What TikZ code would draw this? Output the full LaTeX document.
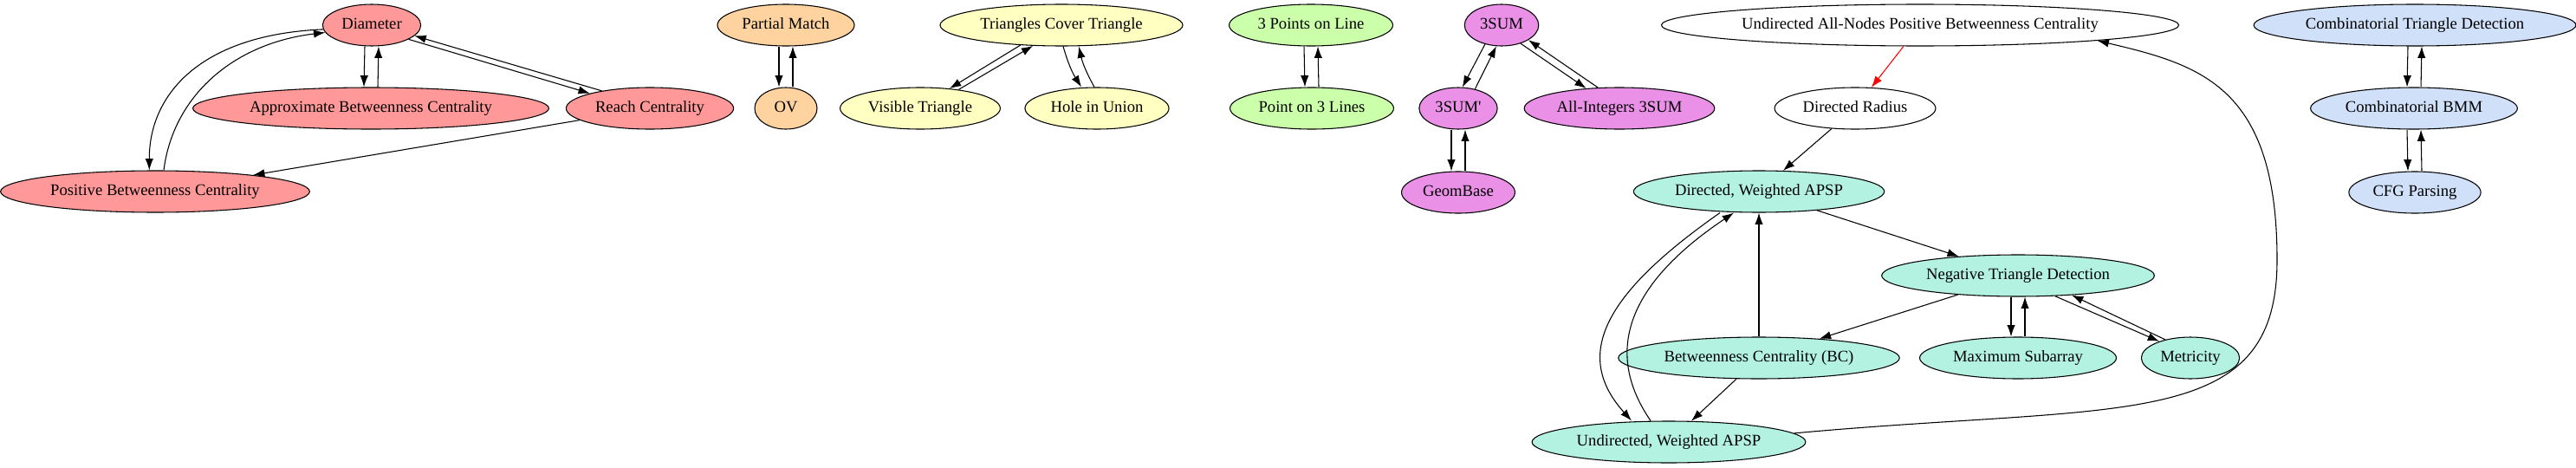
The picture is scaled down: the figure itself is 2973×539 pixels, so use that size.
\documentclass[tikz,border=0pt]{standalone}
\usepackage{fontspec}
\setmainfont{Liberation Serif}
\usetikzlibrary{positioning}
\usetikzlibrary{shapes}
\usetikzlibrary{arrows.meta}

\definecolor{gvred}{HTML}{FF9999}
\definecolor{gvorange}{HTML}{FFD39F}
\definecolor{gvyellow}{HTML}{FFFFC2}
\definecolor{gvgreen}{HTML}{CCFFAA}
\definecolor{gvviolet}{HTML}{EA90E7}
\definecolor{gvteal}{HTML}{B3F2E1}
\definecolor{gvblue}{HTML}{D0E0F8}

\begin{document}
\begin{tikzpicture} [
            x=0.75pt, y=-0.75pt,
            >={Latex[length=10pt,width=7pt]},
            edge/.style={->,line width=0.8pt},
            gnode/.style={draw,ellipse,line width=0.8pt,minimum width=54pt,minimum height=36pt,
                          inner xsep=4pt,inner ysep=1pt,text height=9.5pt,text depth=3pt,
                          font=\fontsize{14pt}{16pt}\selectfont},
            rednode/.style={gnode,fill=gvred},
            orangenode/.style={gnode,fill=gvorange},
            yellownode/.style={gnode,fill=gvyellow},
            greennode/.style={gnode,fill=gvgreen},
            violetnode/.style={gnode,fill=gvviolet},
            tealnode/.style={gnode,fill=gvteal},
            bluenode/.style={gnode,fill=gvblue}]
\useasboundingbox (0,0) rectangle (2973,539);
\node (diam) at (429,29) [rednode] {Diameter}
node (approx) at (428,125) [rednode] {Approximate Betweenness Centrality}
node (reach) at (750,125) [rednode] {Reach Centrality}
node (posbc) at (179,221) [rednode] {Positive Betweenness Centrality}
node (pmatch) at (907,29) [orangenode] {Partial Match}
node (ov) at (907,125) [orangenode] {OV}
node (tct) at (1225,29) [yellownode] {Triangles Cover Triangle}
node (vistri) at (1062,125) [yellownode] {Visible Triangle}
node (hole) at (1266,125) [yellownode] {Hole in Union}
node (ptsline) at (1513,29) [greennode] {3 Points on Line}
node (ptlines) at (1514,125) [greennode] {Point on 3 Lines}
node (tsum) at (1733,29) [violetnode] {3SUM}
node (tsump) at (1683,125) [violetnode] {3SUM\textquotesingle}
node (allint) at (1869,125) [violetnode] {All-Integers 3SUM}
node (geombase) at (1683,222) [violetnode] {GeomBase}
node (uanpbc) at (2216,29) [gnode] {Undirected All-Nodes Positive Betweenness Centrality}
node (dradius) at (2141,125) [gnode] {Directed Radius}
node (dwapsp) at (2030,221) [tealnode] {Directed, Weighted APSP}
node (negtri) at (2329,318) [tealnode] {Negative Triangle Detection}
node (bc) at (2030,413) [tealnode] {Betweenness Centrality (BC)}
node (maxsub) at (2329,413) [tealnode] {Maximum Subarray}
node (metric) at (2528,413) [tealnode] {Metricity}
node (uwapsp) at (1926,510) [tealnode] {Undirected, Weighted APSP}
node (ctd) at (2787,29) [bluenode] {Combinatorial Triangle Detection}
node (cbmm) at (2786,125) [bluenode] {Combinatorial BMM}
node (cfg) at (2787,222) [bluenode] {CFG Parsing}
 ;

% distances
\draw [edge] ([xshift=-6pt]diam.south) -- ([xshift=-6pt]approx.north);
\draw [edge] ([xshift=6pt]approx.north) -- ([xshift=6pt]diam.south);
\draw [edge] (diam.-21) -- (reach.166);
\draw [edge] (reach.160) -- (diam.-14);
\draw [edge] (diam.185) .. controls (230,40) and (172,110) .. ([xshift=-5pt]posbc.north);
\draw [edge] ([xshift=7.5pt]posbc.north) .. controls (200,110) and (270,50) .. (diam.189);
\draw [edge] (reach) -- (posbc);

\draw [edge] ([xshift=-6pt]pmatch.south) -- ([xshift=-6pt]ov.north);
\draw [edge] ([xshift=6pt]ov.north) -- ([xshift=6pt]pmatch.south);

\draw [edge] (tct.206) -- (vistri.34);
\draw [edge] (vistri.26) -- (tct.216);
\draw [edge] ([xshift=1.5pt]tct.south) to[bend right=8] ([xshift=-13.5pt]hole.north);
\draw [edge] ([xshift=-2.25pt]hole.north) to[bend left=8] ([xshift=15pt]tct.south);

\draw [edge] ([xshift=-6pt]ptsline.south) -- ([xshift=-6pt]ptlines.north);
\draw [edge] ([xshift=6pt]ptlines.north) -- ([xshift=6pt]ptsline.south);

% 3SUM
\draw [edge] (tsum.229) -- (tsump.79);
\draw [edge] (tsump.49) -- (tsum.256);
\draw [edge] (tsum.-44) -- (allint.149);
\draw [edge] (allint.136) -- (tsum.-29);
\draw [edge] ([xshift=-6pt]tsump.south) -- ([xshift=-6pt]geombase.north);
\draw [edge] ([xshift=6pt]geombase.north) -- ([xshift=6pt]tsump.south);

% APSP
\draw [edge,color=red] (uanpbc) -- (dradius);
\draw [edge] (dradius) -- (dwapsp);
\draw [edge] (dwapsp) -- (negtri);
\draw [edge] (bc) -- (dwapsp);
\draw [edge] (negtri) -- (bc);
\draw [edge] ([xshift=-6pt]negtri.south) -- ([xshift=-6pt]maxsub.north);
\draw [edge] ([xshift=6pt]maxsub.north) -- ([xshift=6pt]negtri.south);
\draw [edge] (negtri.-29) -- (metric.152);
\draw [edge] (metric.144) -- (negtri.-20);
\draw [edge] (bc) -- (uwapsp);
\draw [edge] ([xshift=-33.75pt]dwapsp.south) .. controls (1850,340) and (1815,410) .. ([xshift=-32.25pt]uwapsp.north);
\draw [edge] ([xshift=-15.75pt]uwapsp.north) .. controls (1860,420) and (1860,340) .. ([xshift=-21.75pt]dwapsp.south);
\draw [edge] (uwapsp.4) .. controls (2450,465) and (2628,500) .. (2628,300) .. controls (2628,100) and (2540,75) .. (uanpbc.-5);

% BMM
\draw [edge] ([xshift=-6pt]ctd.south) -- ([xshift=-6pt]cbmm.north);
\draw [edge] ([xshift=6pt]cbmm.north) -- ([xshift=6pt]ctd.south);
\draw [edge] ([xshift=-6pt]cbmm.south) -- ([xshift=-6pt]cfg.north);
\draw [edge] ([xshift=6pt]cfg.north) -- ([xshift=6pt]cbmm.south);
\end{tikzpicture}
\end{document}
